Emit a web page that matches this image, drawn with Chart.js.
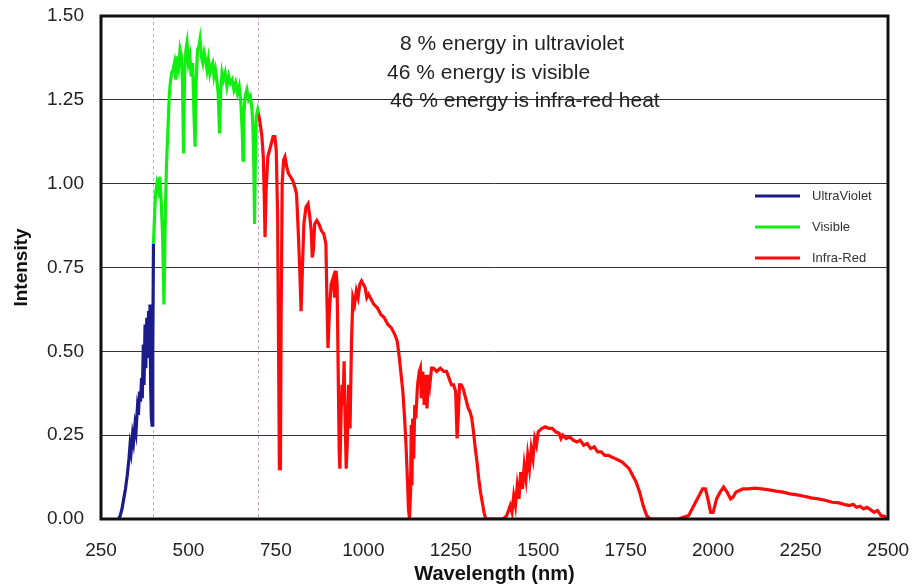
<!DOCTYPE html>
<html>
<head>
<meta charset="utf-8">
<script src="https://cdn.jsdelivr.net/npm/chart.js@4.4.1/dist/chart.umd.min.js"></script>
<style>
  html, body { margin: 0; padding: 0; background: #fff; }
  #wrap { width: 914px; height: 588px; }
</style>
</head>
<body>
<div id="wrap"><canvas id="chart" width="914" height="588"></canvas></div>
<script>
// solar spectrum (wavelength nm, intensity)
var uvWave = [300, 305, 310, 315, 320, 325, 330, 333, 336, 340, 343, 347, 350, 354, 357, 360, 363, 366, 368, 371, 373, 376, 378, 381, 383, 386, 388, 390, 392, 394, 396, 398, 400]
var uvIntensity = [0, 0.01, 0.03, 0.06, 0.09, 0.13, 0.18, 0.22, 0.20, 0.25, 0.23, 0.28, 0.26, 0.33, 0.31, 0.38, 0.35, 0.42, 0.36, 0.52, 0.40, 0.58, 0.45, 0.60, 0.48, 0.62, 0.52, 0.64, 0.40, 0.30, 0.28, 0.50, 0.82]

var visWave = [400, 403, 406, 410, 414, 418, 422, 426, 430, 433, 437, 441, 445, 448, 452, 456, 460, 464, 468, 472, 476, 480, 483, 486, 489, 493, 496, 500, 504, 508, 512, 516, 519, 522, 526, 530, 533, 537, 541, 545, 549, 553, 557, 561, 565, 569, 573, 577, 581, 585, 589, 592, 596, 600, 605, 610, 615, 620, 625, 630, 635, 640, 645, 650, 654, 656, 658, 662, 667, 672, 677, 681, 684, 687, 689, 691, 694, 698, 700]
var visIntensity = [0.82, 0.90, 0.97, 1.00, 0.98, 1.02, 0.95, 0.85, 0.64, 0.85, 1.05, 1.15, 1.26, 1.30, 1.33, 1.34, 1.36, 1.31, 1.38, 1.35, 1.40, 1.38, 1.30, 1.09, 1.33, 1.40, 1.42, 1.36, 1.38, 1.32, 1.36, 1.20, 1.11, 1.30, 1.40, 1.41, 1.43, 1.38, 1.36, 1.39, 1.37, 1.34, 1.37, 1.33, 1.35, 1.36, 1.32, 1.34, 1.31, 1.27, 1.15, 1.27, 1.33, 1.31, 1.33, 1.29, 1.32, 1.30, 1.31, 1.28, 1.30, 1.27, 1.29, 1.24, 1.15, 1.07, 1.20, 1.26, 1.28, 1.25, 1.26, 1.23, 1.18, 1.05, 0.88, 1.05, 1.20, 1.22, 1.21]

var irWave = [700, 705, 710, 714, 717, 719, 722, 727, 732, 737, 742, 747, 751, 755, 758, 760, 763, 765, 768, 772, 776, 781, 786, 792, 798, 804, 809, 813, 818, 822, 825, 830, 836, 842, 847, 851, 854, 857, 861, 867, 873, 880, 887, 893, 896, 899, 903, 908, 914, 918, 922, 925, 928, 931, 933, 936, 939, 942, 945, 948, 951, 954, 958, 962, 966, 970, 975, 980, 985, 990, 995, 1000, 1005, 1010, 1015, 1020, 1030, 1040, 1050, 1060, 1070, 1080, 1090, 1097, 1103, 1108, 1113, 1118, 1122, 1126, 1129, 1132, 1135, 1137, 1139, 1141, 1144, 1147, 1150, 1155, 1160, 1163, 1166, 1170, 1174, 1178, 1182, 1186, 1190, 1195, 1200, 1210, 1220, 1230, 1238, 1245, 1252, 1258, 1264, 1268, 1271, 1275, 1280, 1285, 1290, 1295, 1300, 1305, 1310, 1315, 1320, 1325, 1330, 1335, 1340, 1345, 1350, 1400, 1410, 1420, 1425, 1430, 1435, 1440, 1445, 1450, 1455, 1460, 1465, 1470, 1475, 1480, 1485, 1490, 1495, 1500, 1510, 1520, 1530, 1540, 1550, 1560, 1565, 1570, 1580, 1590, 1600, 1610, 1620, 1630, 1640, 1650, 1660, 1670, 1680, 1690, 1700, 1710, 1720, 1730, 1740, 1750, 1760, 1770, 1780, 1790, 1800, 1810, 1820, 1900, 1930, 1945, 1960, 1970, 1978, 1985, 1993, 2000, 2010, 2020, 2030, 2040, 2050, 2057, 2065, 2075, 2085, 2100, 2120, 2140, 2160, 2180, 2200, 2220, 2240, 2260, 2280, 2300, 2320, 2340, 2360, 2380, 2390, 2400, 2410, 2420, 2430, 2440, 2450, 2460, 2470, 2480, 2490, 2500]
var irIntensity = [1.21, 1.18, 1.14, 1.08, 0.95, 0.84, 0.98, 1.08, 1.10, 1.12, 1.14, 1.14, 1.10, 0.90, 0.45, 0.15, 0.15, 0.60, 1.00, 1.07, 1.08, 1.05, 1.03, 1.02, 1.01, 0.99, 0.97, 0.88, 0.75, 0.62, 0.72, 0.88, 0.93, 0.94, 0.90, 0.86, 0.78, 0.80, 0.88, 0.89, 0.88, 0.86, 0.85, 0.82, 0.65, 0.51, 0.62, 0.70, 0.72, 0.66, 0.74, 0.70, 0.45, 0.20, 0.15, 0.30, 0.40, 0.34, 0.47, 0.30, 0.15, 0.22, 0.40, 0.27, 0.52, 0.66, 0.64, 0.68, 0.66, 0.70, 0.71, 0.70, 0.69, 0.66, 0.67, 0.66, 0.64, 0.63, 0.61, 0.60, 0.58, 0.57, 0.55, 0.53, 0.48, 0.43, 0.38, 0.30, 0.22, 0.12, 0.03, 0.00, 0.08, 0.28, 0.10, 0.30, 0.18, 0.34, 0.30, 0.40, 0.44, 0.45, 0.36, 0.44, 0.34, 0.43, 0.33, 0.43, 0.40, 0.45, 0.45, 0.44, 0.45, 0.44, 0.44, 0.42, 0.40, 0.40, 0.38, 0.24, 0.30, 0.40, 0.40, 0.39, 0.37, 0.35, 0.33, 0.32, 0.30, 0.26, 0.21, 0.17, 0.12, 0.08, 0.05, 0.02, 0, 0, 0.01, 0.04, 0.02, 0.07, 0.04, 0.10, 0.06, 0.14, 0.09, 0.16, 0.12, 0.19, 0.15, 0.21, 0.18, 0.24, 0.22, 0.26, 0.27, 0.275, 0.27, 0.27, 0.26, 0.255, 0.24, 0.25, 0.24, 0.245, 0.235, 0.23, 0.235, 0.22, 0.225, 0.21, 0.215, 0.20, 0.20, 0.19, 0.19, 0.185, 0.18, 0.175, 0.17, 0.16, 0.15, 0.13, 0.11, 0.08, 0.04, 0.01, 0, 0, 0.01, 0.04, 0.07, 0.09, 0.09, 0.06, 0.02, 0.02, 0.06, 0.08, 0.095, 0.08, 0.06, 0.065, 0.08, 0.085, 0.09, 0.09, 0.092, 0.09, 0.087, 0.083, 0.08, 0.075, 0.072, 0.068, 0.063, 0.06, 0.056, 0.05, 0.048, 0.042, 0.04, 0.044, 0.035, 0.038, 0.03, 0.035, 0.028, 0.02, 0.025, 0.01, 0.008, 0]

var seriesNames = ["UltraViolet", "Visible", "Infra-Red"]
var seriesColors = ["#1b1b8a", "#11ee11", "#ff0a0a"]
var bandEdges = [400, 700]
var notes = ["8 % energy in ultraviolet", "46 % energy is visible", "46 % energy is infra-red heat"]

function pairs(xs, ys) {
    var out = []
    for (var i = 0; i < xs.length; ++i) out.push({ x: xs[i], y: ys[i] })
    return out
}

var FONT = "Arial, 'Liberation Sans', sans-serif"

// dotted band edges, black frame, notes and the legend inside the plot
var extras = {
    id: 'extras',
    beforeDatasetsDraw(chart) {
        var c = chart.ctx, a = chart.chartArea, xs = chart.scales.x
        c.save()
        c.strokeStyle = "#c9a3c9"
        c.lineWidth = 1
        c.setLineDash([3, 3])
        bandEdges.forEach(v => {
            var px = Math.round(xs.getPixelForValue(v)) + 0.5
            c.beginPath()
            c.moveTo(px, a.top)
            c.lineTo(px, a.bottom)
            c.stroke()
        })
        c.restore()
    },
    afterDraw(chart) {
        var c = chart.ctx, a = chart.chartArea
        c.save()
        c.strokeStyle = "#111"
        c.lineWidth = 3
        c.strokeRect(a.left, a.top, a.right - a.left, a.bottom - a.top)

        c.fillStyle = "#222"
        c.font = "21px " + FONT
        c.textBaseline = "middle"
        var nx = [a.left + 299, a.left + 286, a.left + 289]
        var ny = [a.top + 28, a.top + 57, a.top + 85]
        notes.forEach((t, i) => c.fillText(t, nx[i], ny[i]))

        c.font = "13px " + FONT
        c.fillStyle = "#333"
        chart.data.datasets.forEach((ds, i) => {
            var y = a.top + 180 + i * 31
            c.strokeStyle = ds.borderColor
            c.lineWidth = 3
            c.beginPath()
            c.moveTo(a.right - 133, y)
            c.lineTo(a.right - 88, y)
            c.stroke()
            c.fillText(ds.label, a.right - 76, y)
        })
        c.restore()
    }
}

window.onload = () => {
    var ctx = document.getElementById("chart").getContext('2d')
    var mk = (i, xs, ys) => ({
        label: seriesNames[i],
        data: pairs(xs, ys),
        borderColor: seriesColors[i],
        backgroundColor: seriesColors[i],
        borderWidth: 3.2,
        pointRadius: 0,
        fill: false,
        tension: 0
    })

    new Chart(ctx, {
        type: 'line',
        data: {
            datasets: [
                mk(0, uvWave, uvIntensity),
                mk(1, visWave, visIntensity),
                mk(2, irWave, irIntensity)
            ]
        },
        options: {
            responsive: false,
            animation: false,
            layout: { padding: { left: 0, right: 26, top: 16, bottom: 0 } },
            plugins: {
                legend: { display: false },
                tooltip: { enabled: false }
            },
            scales: {
                x: {
                    type: 'linear',
                    min: 250,
                    max: 2500,
                    afterFit: s => { s.height = 69; s.paddingLeft = 0; s.paddingRight = 0 },
                    grid: { display: false, drawTicks: false },
                    border: { display: false },
                    ticks: { stepSize: 250, padding: 20, color: "#222", font: { family: FONT, size: 19 },
                             callback: v => String(v) },
                    title: { display: true, text: "Wavelength (nm)", color: "#111", padding: { top: 0, bottom: 2 },
                             font: { family: FONT, size: 20, weight: 'bold' } }
                },
                y: {
                    min: 0,
                    max: 1.5,
                    afterFit: s => { s.width = 101; s.paddingTop = 0; s.paddingBottom = 0 },
                    grid: { color: "#333", lineWidth: 1, drawTicks: false },
                    border: { display: false },
                    ticks: { stepSize: 0.25, padding: 17, color: "#222", font: { family: FONT, size: 19 },
                             callback: v => v.toFixed(2) },
                    title: { display: true, text: "Intensity", color: "#111", padding: { top: 10, bottom: 0 },
                             font: { family: FONT, size: 19, weight: 'bold' } }
                }
            }
        },
        plugins: [extras]
    })
}
</script>
</body>
</html>
